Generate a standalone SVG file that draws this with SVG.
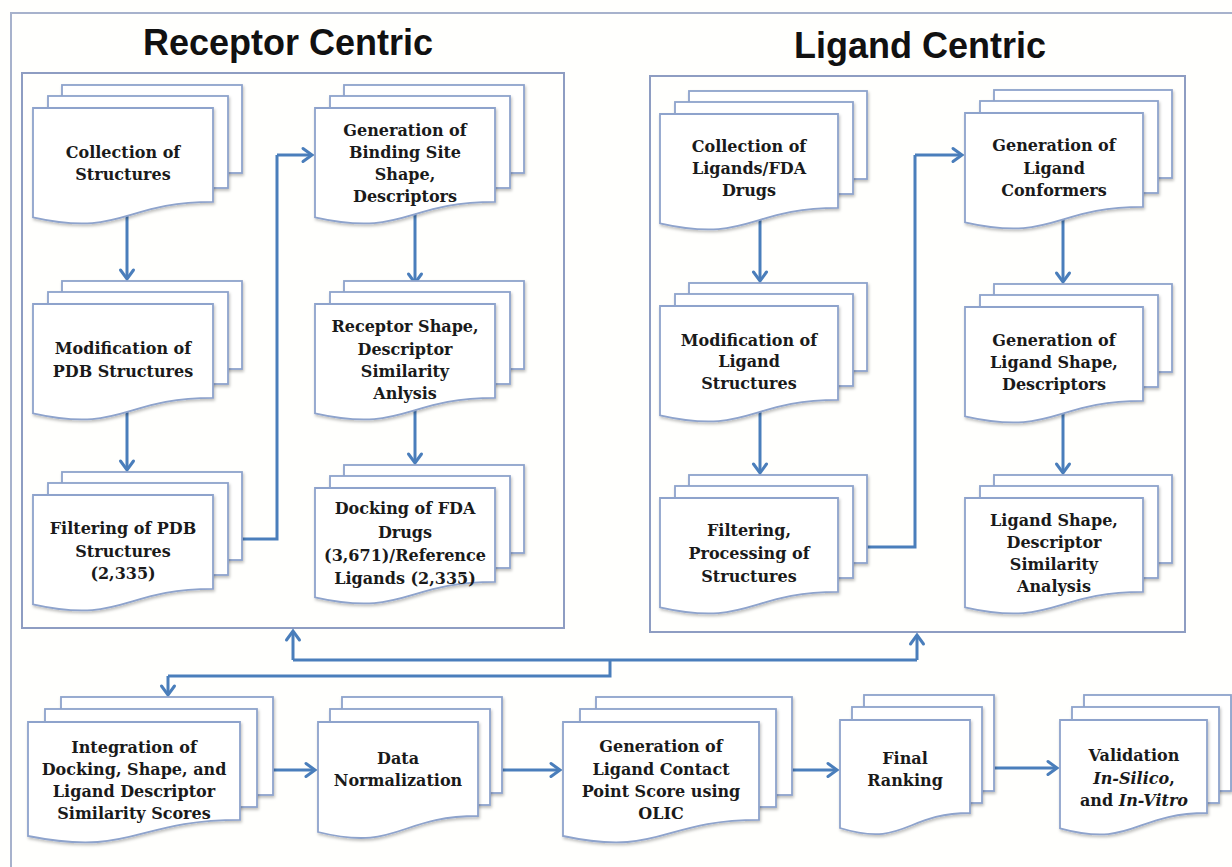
<svg xmlns="http://www.w3.org/2000/svg" width="1232" height="867" viewBox="0 0 1232 867">
<defs>
<filter id="sh" x="-10%" y="-10%" width="130%" height="140%">
<feDropShadow dx="1" dy="2" stdDeviation="1.5" flood-color="#000" flood-opacity="0.25"/>
</filter>
<marker id="ah" markerUnits="userSpaceOnUse" markerWidth="20" markerHeight="20" refX="0" refY="0" viewBox="-12 -10 14 20" orient="auto">
<path d="M-9,-6.5 L0,0 L-9,6.5" fill="none" stroke="#4a7ebb" stroke-width="3" stroke-linecap="round" stroke-linejoin="miter"/>
</marker>
</defs>
<style>
.bg{fill:#fffffd}
.outer{fill:none;stroke:#a7b2cc;stroke-width:2}
.box{fill:none;stroke:#8e9dc2;stroke-width:2}
.pg{fill:#ffffff;stroke:#8ea3cc;stroke-width:1.8;filter:url(#sh)}
.title{font-family:"Liberation Sans",Arial,sans-serif;font-weight:bold;font-size:36px;fill:#111;text-anchor:middle}
.t{font-family:"DejaVu Serif","Liberation Serif",serif;font-weight:bold;font-size:16px;fill:#1a1a1a;text-anchor:middle}
.it{font-style:italic}
.c{fill:none;stroke:#4a7ebb;stroke-width:3}
.a{marker-end:url(#ah)}
</style>
<rect class="bg" x="0" y="0" width="1232" height="867"/>
<rect class="outer" x="11" y="13" width="1240" height="880"/>
<rect class="box" x="22" y="73" width="542" height="555"/>
<rect class="box" x="650" y="76" width="535" height="556"/>
<text class="title" x="288" y="55">Receptor Centric</text>
<text class="title" x="920" y="58">Ligand Centric</text>

<g id="connectors">
<path class="c a" d="M127,212 V279"/>
<path class="c a" d="M127,408 V470"/>
<path class="c a" d="M415,212 V283"/>
<path class="c a" d="M415,408 V463"/>
<path class="c" d="M238,539 H277 V155"/>
<path class="c a" d="M277,155 H312"/>
<path class="c a" d="M760,218 V281"/>
<path class="c a" d="M760,410 V473"/>
<path class="c a" d="M1063,218 V282"/>
<path class="c a" d="M1063,412 V473"/>
<path class="c" d="M864,547 H915 V155"/>
<path class="c a" d="M915,155 H962"/>
<path class="c a" d="M293,660 V631"/>
<path class="c a" d="M917,660 V635"/>
<path class="c" d="M293,660 H917"/>
<path class="c" d="M610,660 V676 H168"/>
<path class="c a" d="M168,676 V695"/>
<path class="c a" d="M270,770 H315"/>
<path class="c a" d="M500,770 H560"/>
<path class="c a" d="M790,770 H837"/>
<path class="c a" d="M990,768 H1057"/>
</g>

<g id="n-collection-structures">
<rect class="pg" x="62" y="85" width="180" height="88"/>
<rect class="pg" x="48" y="96" width="180" height="92"/>
<path class="pg" d="M33,108 H213 V201.8 C123,201.8 123,237.5 33,217.3 Z"/>
<text class="t" x="123" y="158">Collection of</text>
<text class="t" x="123" y="180">Structures</text>
</g>
<g id="n-modification-pdb">
<rect class="pg" x="62" y="281" width="180" height="88"/>
<rect class="pg" x="48" y="292" width="180" height="92"/>
<path class="pg" d="M33,304 H213 V397.8 C123,397.8 123,433.5 33,413.3 Z"/>
<text class="t" x="123" y="354">Modification of</text>
<text class="t" x="123" y="377">PDB Structures</text>
</g>
<g id="n-filtering-pdb">
<rect class="pg" x="62" y="472" width="180" height="88"/>
<rect class="pg" x="48" y="483" width="180" height="92"/>
<path class="pg" d="M33,495 H213 V588.8 C123,588.8 123,624.5 33,604.3 Z"/>
<text class="t" x="123" y="534">Filtering of PDB</text>
<text class="t" x="123" y="557">Structures</text>
<text class="t" x="123" y="579">(2,335)</text>
</g>
<g id="n-binding-site">
<rect class="pg" x="344" y="85" width="180" height="88"/>
<rect class="pg" x="330" y="96" width="180" height="92"/>
<path class="pg" d="M315,108 H495 V201.8 C405,201.8 405,237.5 315,217.3 Z"/>
<text class="t" x="405" y="136">Generation of</text>
<text class="t" x="405" y="158">Binding Site</text>
<text class="t" x="405" y="180">Shape,</text>
<text class="t" x="405" y="202">Descriptors</text>
</g>
<g id="n-receptor-similarity">
<rect class="pg" x="344" y="281" width="180" height="88"/>
<rect class="pg" x="330" y="292" width="180" height="92"/>
<path class="pg" d="M315,304 H495 V397.8 C405,397.8 405,433.5 315,413.3 Z"/>
<text class="t" x="405" y="332">Receptor Shape,</text>
<text class="t" x="405" y="355">Descriptor</text>
<text class="t" x="405" y="377">Similarity</text>
<text class="t" x="405" y="399">Anlysis</text>
</g>
<g id="n-docking">
<rect class="pg" x="344" y="465" width="180" height="88"/>
<rect class="pg" x="330" y="476" width="180" height="92"/>
<path class="pg" d="M315,488 H495 V581.8 C405,581.8 405,617.5 315,597.3 Z"/>
<text class="t" x="405" y="514">Docking of FDA</text>
<text class="t" x="405" y="538">Drugs</text>
<text class="t" x="405" y="561">(3,671)/Reference</text>
<text class="t" x="405" y="584">Ligands (2,335)</text>
</g>

<g id="n-collection-ligands">
<rect class="pg" x="689" y="91" width="178" height="88"/>
<rect class="pg" x="675" y="102" width="178" height="92"/>
<path class="pg" d="M660,114 H838 V207.8 C749,207.8 749,243.5 660,223.3 Z"/>
<text class="t" x="749" y="152">Collection of</text>
<text class="t" x="749" y="174">Ligands/FDA</text>
<text class="t" x="749" y="196">Drugs</text>
</g>
<g id="n-modification-ligand">
<rect class="pg" x="689" y="283" width="178" height="88"/>
<rect class="pg" x="675" y="294" width="178" height="92"/>
<path class="pg" d="M660,306 H838 V399.8 C749,399.8 749,435.5 660,415.3 Z"/>
<text class="t" x="749" y="346">Modification of</text>
<text class="t" x="749" y="367">Ligand</text>
<text class="t" x="749" y="389">Structures</text>
</g>
<g id="n-filtering-ligand">
<rect class="pg" x="689" y="475" width="178" height="88"/>
<rect class="pg" x="675" y="486" width="178" height="92"/>
<path class="pg" d="M660,498 H838 V591.8 C749,591.8 749,627.5 660,607.3 Z"/>
<text class="t" x="749" y="536">Filtering,</text>
<text class="t" x="749" y="559">Processing of</text>
<text class="t" x="749" y="582">Structures</text>
</g>
<g id="n-conformers">
<rect class="pg" x="994" y="90" width="178" height="88"/>
<rect class="pg" x="980" y="101" width="178" height="92"/>
<path class="pg" d="M965,113 H1143 V206.8 C1054,206.8 1054,242.5 965,222.3 Z"/>
<text class="t" x="1054" y="151">Generation of</text>
<text class="t" x="1054" y="174">Ligand</text>
<text class="t" x="1054" y="196">Conformers</text>
</g>
<g id="n-ligand-shape">
<rect class="pg" x="994" y="284" width="178" height="88"/>
<rect class="pg" x="980" y="295" width="178" height="92"/>
<path class="pg" d="M965,307 H1143 V400.8 C1054,400.8 1054,436.5 965,416.3 Z"/>
<text class="t" x="1054" y="346">Generation of</text>
<text class="t" x="1054" y="368">Ligand Shape,</text>
<text class="t" x="1054" y="390">Descriptors</text>
</g>
<g id="n-ligand-similarity">
<rect class="pg" x="994" y="475" width="178" height="88"/>
<rect class="pg" x="980" y="486" width="178" height="92"/>
<path class="pg" d="M965,498 H1143 V591.8 C1054,591.8 1054,627.5 965,607.3 Z"/>
<text class="t" x="1054" y="526">Ligand Shape,</text>
<text class="t" x="1054" y="548">Descriptor</text>
<text class="t" x="1054" y="570">Similarity</text>
<text class="t" x="1054" y="592">Analysis</text>
</g>

<g id="n-integration">
<rect class="pg" x="61" y="697" width="212" height="98"/>
<rect class="pg" x="45" y="709" width="212" height="98"/>
<path class="pg" d="M28,722 H240 V819.8 C134,819.8 134,857 28,836 Z"/>
<text class="t" x="134" y="753">Integration of</text>
<text class="t" x="134" y="775">Docking, Shape, and</text>
<text class="t" x="134" y="797">Ligand Descriptor</text>
<text class="t" x="134" y="819">Similarity Scores</text>
</g>
<g id="n-normalization">
<rect class="pg" x="342" y="697" width="160" height="96"/>
<rect class="pg" x="330" y="709" width="160" height="96"/>
<path class="pg" d="M318,722 H478 V816 C398,816 398,852 318,832 Z"/>
<text class="t" x="398" y="764">Data</text>
<text class="t" x="398" y="786">Normalization</text>
</g>
<g id="n-olic">
<rect class="pg" x="596" y="697" width="196" height="98"/>
<rect class="pg" x="580" y="709" width="196" height="98"/>
<path class="pg" d="M563,722 H759 V819.8 C661,819.8 661,857 563,836 Z"/>
<text class="t" x="661" y="752">Generation of</text>
<text class="t" x="661" y="775">Ligand Contact</text>
<text class="t" x="661" y="797">Point Score using</text>
<text class="t" x="661" y="819">OLIC</text>
</g>
<g id="n-final-ranking">
<rect class="pg" x="864" y="695" width="130" height="96"/>
<rect class="pg" x="852" y="707" width="130" height="96"/>
<path class="pg" d="M840,720 H970 V813 C905,813 905,848 840,828 Z"/>
<text class="t" x="905" y="764">Final</text>
<text class="t" x="905" y="786">Ranking</text>
</g>
<g id="n-validation">
<rect class="pg" x="1084" y="695" width="147" height="96"/>
<rect class="pg" x="1072" y="707" width="147" height="96"/>
<path class="pg" d="M1060,720 H1207 V813 C1133.5,813 1133.5,848.4 1060,828.3 Z"/>
<text class="t" x="1134" y="761">Validation</text>
<text class="t" x="1134" y="784"><tspan class="it">In-Silico</tspan>,</text>
<text class="t" x="1134" y="806">and <tspan class="it">In-Vitro</tspan></text>
</g>
</svg>
